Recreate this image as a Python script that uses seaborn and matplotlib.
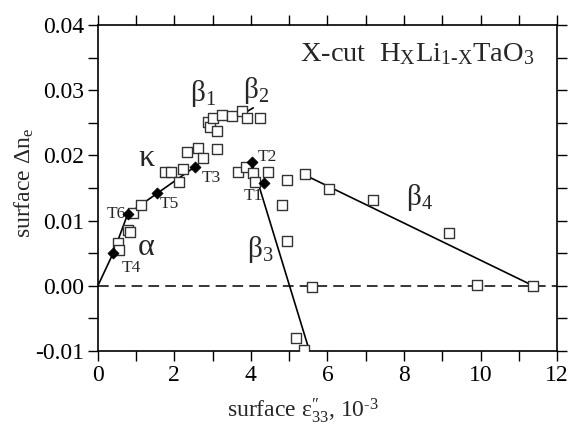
import matplotlib
matplotlib.use("Agg")
import matplotlib.pyplot as plt
from matplotlib.ticker import MultipleLocator, FuncFormatter
import seaborn as sns

# ---- data ----
sq_x = [0.52, 0.55, 0.78, 0.84, 0.92, 1.14,
        1.75, 1.90, 2.13, 2.23, 2.32, 2.62, 2.74, 3.12,
        2.89, 2.93, 3.01, 3.12, 3.25, 3.51, 3.77, 3.89, 4.24,
        3.67, 3.86, 4.06, 4.10, 4.44,
        4.95, 4.80, 4.95, 5.60, 5.18, 5.39,
        5.41, 6.05, 7.18, 9.18, 9.91, 11.38]
sq_y = [0.0066, 0.0055, 0.0085, 0.0083, 0.0111, 0.0124,
        0.0174, 0.0174, 0.0160, 0.0179, 0.0206, 0.0212, 0.0196, 0.0210,
        0.0252, 0.0244, 0.0257, 0.0237, 0.0262, 0.0261, 0.0268, 0.0257, 0.0258,
        0.0175, 0.0183, 0.0173, 0.0159, 0.0174,
        0.0163, 0.0124, 0.0069, -0.0001, -0.0080, -0.0099,
        0.0172, 0.0148, 0.0131, 0.0081, 0.0002, 0.0000]

t_names = ["T4", "T6", "T5", "T3", "T2", "T1"]
t_x = [0.40, 0.78, 1.55, 2.54, 4.02, 4.34]
t_y = [0.0050, 0.0110, 0.0143, 0.0182, 0.0190, 0.0158]

ak_x = [0.0, 0.40, 0.78, 2.62]
ak_y = [0.0, 0.0050, 0.0110, 0.0186]
b2_x = [3.89, 4.06]
b2_y = [0.0267, 0.0273]
b3_x = [4.02, 5.53]
b3_y = [0.0190, -0.0100]
b4_x = [5.41, 11.38]
b4_y = [0.0170, 0.0000]
zero_x = [0.0, 12.0]
zero_y = [0.0, 0.0]

x_ticks = [0, 2, 4, 6, 8, 10, 12]
y_ticks = [-0.01, 0.00, 0.01, 0.02, 0.03, 0.04]

sns.set_style("ticks")
plt.rcParams['font.family'] = ['Liberation Serif', 'DejaVu Serif']
plt.rcParams['mathtext.fontset'] = 'custom'
plt.rcParams['mathtext.rm'] = 'Liberation Serif'
plt.rcParams['mathtext.it'] = 'Liberation Serif:italic'
plt.rcParams['mathtext.bf'] = 'Liberation Serif:bold'
plt.rcParams['mathtext.default'] = 'rm'
plt.rcParams['axes.unicode_minus'] = False

fig = plt.figure(figsize=(5.72, 4.24), dpi=100)
ax = fig.add_axes([0.171, 0.172, 0.803, 0.769])

# lines
sns.lineplot(x=zero_x, y=zero_y, ax=ax, color='black', lw=1.1,
             linestyle=(0, (7, 4)), sort=False, estimator=None)
for lx, ly in [(ak_x, ak_y), (b2_x, b2_y), (b3_x, b3_y), (b4_x, b4_y)]:
    sns.lineplot(x=lx, y=ly, ax=ax, color='black', lw=1.2, sort=False,
                 estimator=None)

sns.scatterplot(x=sq_x, y=sq_y, ax=ax, marker='s', s=48, facecolor='white',
                edgecolor='#333333', linewidth=1.0, zorder=3)
sns.scatterplot(x=t_x, y=t_y, ax=ax, marker='D', s=32, color='black',
                edgecolor='black', linewidth=0.5, zorder=4)

ax.set_xlim(0, 12)
ax.set_ylim(-0.01, 0.04)
ax.set_xticks(x_ticks)
ax.set_yticks(y_ticks)
ax.xaxis.set_minor_locator(MultipleLocator(1))
ax.yaxis.set_minor_locator(MultipleLocator(0.005))
ax.xaxis.set_major_formatter(FuncFormatter(lambda v, p: f"{v:.0f}"))
ax.yaxis.set_major_formatter(FuncFormatter(lambda v, p: f"{v:.2f}"))
ax.tick_params(which='both', direction='out', length=7, width=1.0,
               top=True, right=True, labelsize=17, colors='black', pad=3)
for sp in ax.spines.values():
    sp.set_visible(True)
    sp.set_linewidth(1.2)
    sp.set_color('black')

ax.set_xlabel('surface ε$^{\u2033}_{33}$, 10$^{\u2010 3}$', fontsize=17)
ax.xaxis.set_label_coords(0.447, -0.137)
ax.set_ylabel("surface Δn$_{e}$", fontsize=17)
ax.yaxis.set_label_coords(-0.135, 0.515)

# annotations
lbl = dict(fontsize=21, ha='left', va='baseline')
ax.text(2.41, 0.0283, "β$_1$", **lbl)
ax.text(3.79, 0.0288, "β$_2$", **lbl)
ax.text(1.06, 0.0184, "κ", fontsize=23, ha='left', va='baseline')
ax.text(1.05, 0.0048, "α", fontsize=23, ha='left', va='baseline')
ax.text(3.89, 0.0045, "β$_3$", **lbl)
ax.text(8.05, 0.0124, "β$_4$", **lbl)

t_pos = {"T4": (0.62, 0.0022), "T6": (0.23, 0.0104), "T5": (1.62, 0.0119),
         "T3": (2.71, 0.0160), "T2": (4.17, 0.0192), "T1": (3.80, 0.0132)}
for n in t_names:
    ax.text(*t_pos[n], n, fontsize=12.5, ha='left', va='baseline')

ax.text(5.28, 0.0344, "X-cut  H$_X$Li$_{1\u2010X}$TaO$_3$",
        fontsize=20.5, ha='left', va='baseline')

fig.savefig("out.png", dpi=100)
